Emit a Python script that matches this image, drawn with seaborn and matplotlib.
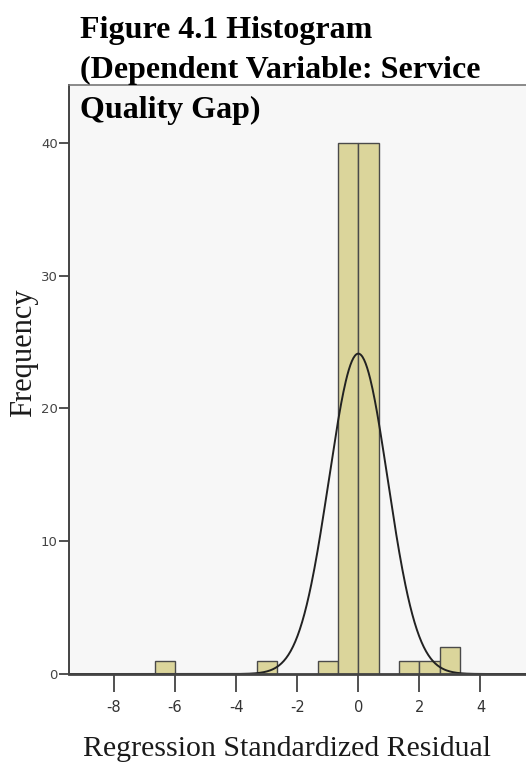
import numpy as np
import pandas as pd
import matplotlib
matplotlib.use('Agg')
import matplotlib.pyplot as plt
import seaborn as sns

# --------- DATA ----------------------------------------
bin_edges = [-6.67, -6.0, -5.33, -4.67, -4.0, -3.33, -2.67, -2.0,
             -1.33, -0.67, 0.0, 0.67, 1.33, 2.0, 2.67, 3.33]
bin_counts = [1, 0, 0, 0, 0, 1, 0, 0, 1, 40, 40, 0, 1, 1, 2]
resid_mean = 0.0
resid_sd = 0.964
x_ticks = [-8, -6, -4, -2, 0, 2, 4]
y_ticks = [0, 10, 20, 30, 40]

title_text = "Figure 4.1 Histogram\n(Dependent Variable: Service\nQuality Gap)"

# --------- PLOT ----------
sns.set_style("ticks")
plt.rcParams['font.family'] = ['Liberation Serif', 'DejaVu Serif']
tick_font = ['DejaVu Sans']

edges = np.array(bin_edges)
centers = (edges[:-1] + edges[1:]) / 2
df = pd.DataFrame({"resid": centers, "n": bin_counts})

fig = plt.figure(figsize=(5.26, 7.65), dpi=100)
fig.patch.set_facecolor("white")
ax = fig.add_axes([69 / 526, 91 / 765, 1 - 69 / 526, 589 / 765])
ax.set_facecolor("#f7f7f7")

sns.histplot(data=df, x="resid", weights="n", bins=list(bin_edges), ax=ax,
             color="#dbd59b", alpha=1.0, edgecolor="#4a4a4a", linewidth=1.0)

# normal curve scaled to counts
n_total = sum(bin_counts)
bw = edges[1] - edges[0]
xs = np.linspace(-9.5, 5.5, 600)
ys = n_total * bw * np.exp(-0.5 * ((xs - resid_mean) / resid_sd) ** 2) / (resid_sd * np.sqrt(2 * np.pi))
sns.lineplot(x=xs, y=ys, ax=ax, color="#222222", linewidth=1.4)

ax.set_xlim(-9.47, 5.49)
ax.set_ylim(0, 44.35)
ax.set_xticks(x_ticks)
ax.set_yticks(y_ticks)
ax.set_xticklabels([str(t) for t in x_ticks], family=tick_font, fontsize=10.5, color="#333333")
ax.set_yticklabels([str(t) for t in y_ticks], family=tick_font, fontsize=9.5, color="#444444")
ax.tick_params(axis='x', length=13, width=1.2, color="#333333", pad=6)
ax.tick_params(axis='y', length=7, width=1.2, color="#333333", pad=1)

for side in ["left", "bottom", "top"]:
    ax.spines[side].set_visible(True)
    ax.spines[side].set_color("#444444")
ax.spines["left"].set_linewidth(1.4)
ax.spines["bottom"].set_linewidth(2.0)
ax.spines["top"].set_linewidth(1.2)
ax.spines["top"].set_color("#777777")
ax.spines["right"].set_visible(False)

ax.set_xlabel("Regression Standardized Residual", fontsize=21.5, color="#1a1a1a", va="center")
ax.set_ylabel("Frequency", fontsize=22, color="#1a1a1a", va="center")
ax.xaxis.set_label_coords(0.476, (674 - 749) / 589)
ax.yaxis.set_label_coords((24 - 69) / 457, 0.545)

fig.text(80 / 526, 1 - 16 / 765, title_text, ha="left", va="top",
         fontsize=23, fontweight="bold", color="black", linespacing=1.5)

plt.savefig("out.png", dpi=100)
plt.close()
